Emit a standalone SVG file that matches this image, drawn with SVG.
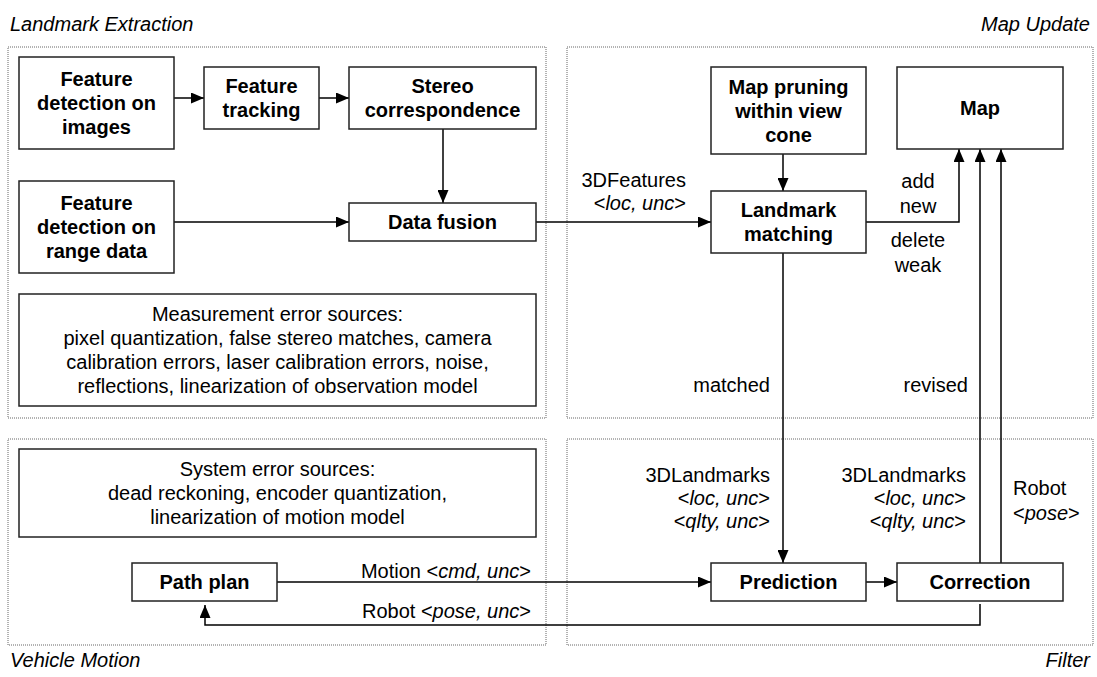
<svg xmlns="http://www.w3.org/2000/svg" width="1097" height="677" viewBox="0 0 1097 677">
<defs>
<marker id="ah" viewBox="0 0 13 11" refX="13" refY="5.5" markerWidth="13" markerHeight="11" markerUnits="userSpaceOnUse" orient="auto">
<path d="M0,0 L13,5.5 L0,11 z" fill="#000"/>
</marker>
<style>
.frame{fill:none;stroke:#666;stroke-width:1;stroke-dasharray:1 1}
.box{fill:#fff;stroke:#222;stroke-width:1.5}
.b{font-family:"Liberation Sans",Arial,sans-serif;font-size:20px;font-weight:bold;fill:#000;text-anchor:middle}
.r{font-family:"Liberation Sans",Arial,sans-serif;font-size:20px;fill:#000}
.m{text-anchor:middle}
.e{text-anchor:end}
.i{font-style:italic}
.lab{font-family:"Liberation Sans",Arial,sans-serif;font-size:20px;font-style:italic;fill:#000}
.c{fill:none;stroke:#000;stroke-width:1.5}
</style>
</defs>
<rect width="1097" height="677" fill="#fff"/>

<g id="frames">
<rect class="frame" x="8" y="47" width="538" height="371"/>
<rect class="frame" x="567" y="47" width="526" height="371"/>
<rect class="frame" x="8" y="439" width="538" height="206"/>
<rect class="frame" x="567" y="439" width="526" height="206"/>
<text class="lab" x="10" y="31">Landmark Extraction</text>
<text class="lab" x="1090" y="31" text-anchor="end">Map Update</text>
<text class="lab" x="10" y="667">Vehicle Motion</text>
<text class="lab" x="1090" y="667" text-anchor="end">Filter</text>
</g>

<g id="connectors">
<path class="c" d="M174,98 H204" marker-end="url(#ah)"/>
<path class="c" d="M319,98 H349" marker-end="url(#ah)"/>
<path class="c" d="M443,129 V203" marker-end="url(#ah)"/>
<path class="c" d="M174,222 H349" marker-end="url(#ah)"/>
<path class="c" d="M536,222 H711" marker-end="url(#ah)"/>
<path class="c" d="M783,154 V191" marker-end="url(#ah)"/>
<path class="c" d="M866,222 H959 V149" marker-end="url(#ah)"/>
<path class="c" d="M783,253 V563" marker-end="url(#ah)"/>
<path class="c" d="M980,563 V149" marker-end="url(#ah)"/>
<path class="c" d="M1001,563 V149" marker-end="url(#ah)"/>
<path class="c" d="M277,582 H711" marker-end="url(#ah)"/>
<path class="c" d="M866,582 H897" marker-end="url(#ah)"/>
<path class="c" d="M980,604 V625 H205 V605" marker-end="url(#ah)"/>
<text class="r e" x="686" y="187">3DFeatures</text>
<text class="r e" x="686" y="210">&lt;<tspan class="i">loc, unc</tspan>&gt;</text>
<text class="r m" x="918" y="188">add</text>
<text class="r m" x="918" y="213">new</text>
<text class="r m" x="918" y="247">delete</text>
<text class="r m" x="918" y="272">weak</text>
<text class="r e" x="770" y="392">matched</text>
<text class="r e" x="968" y="392">revised</text>
<text class="r e" x="770" y="482">3DLandmarks</text>
<text class="r e" x="770" y="505">&lt;<tspan class="i">loc, unc</tspan>&gt;</text>
<text class="r e" x="770" y="528">&lt;<tspan class="i">qlty, unc</tspan>&gt;</text>
<text class="r e" x="966" y="482">3DLandmarks</text>
<text class="r e" x="966" y="505">&lt;<tspan class="i">loc, unc</tspan>&gt;</text>
<text class="r e" x="966" y="528">&lt;<tspan class="i">qlty, unc</tspan>&gt;</text>
<text class="r" x="1013" y="495">Robot</text>
<text class="r" x="1013" y="520">&lt;<tspan class="i">pose</tspan>&gt;</text>
<text class="r e" x="531" y="578">Motion &lt;<tspan class="i">cmd, unc</tspan>&gt;</text>
<text class="r e" x="531" y="618">Robot &lt;<tspan class="i">pose, unc</tspan>&gt;</text>
</g>

<g id="fd-images">
<rect class="box" x="19" y="57" width="155" height="92"/>
<text class="b" x="96.5" y="86">Feature</text>
<text class="b" x="96.5" y="110">detection on</text>
<text class="b" x="96.5" y="134">images</text>
</g>
<g id="feature-tracking">
<rect class="box" x="204" y="67" width="115" height="62"/>
<text class="b" x="261.5" y="93">Feature</text>
<text class="b" x="261.5" y="117">tracking</text>
</g>
<g id="stereo">
<rect class="box" x="349" y="67" width="187" height="62"/>
<text class="b" x="442.5" y="93">Stereo</text>
<text class="b" x="442.5" y="117">correspondence</text>
</g>
<g id="fd-range">
<rect class="box" x="19" y="181" width="155" height="92"/>
<text class="b" x="96.5" y="210">Feature</text>
<text class="b" x="96.5" y="234">detection on</text>
<text class="b" x="96.5" y="258">range data</text>
</g>
<g id="data-fusion">
<rect class="box" x="349" y="203" width="187" height="38"/>
<text class="b" x="442.5" y="229">Data fusion</text>
</g>
<g id="measurement-errors">
<rect class="box" x="19" y="294" width="517" height="112"/>
<text class="r m" x="277.5" y="321">Measurement error sources:</text>
<text class="r m" x="277.5" y="345">pixel quantization, false stereo matches, camera</text>
<text class="r m" x="277.5" y="369">calibration errors, laser calibration errors, noise,</text>
<text class="r m" x="277.5" y="393">reflections, linearization of observation model</text>
</g>
<g id="map-pruning">
<rect class="box" x="711" y="67" width="155" height="87"/>
<text class="b" x="788.5" y="94">Map pruning</text>
<text class="b" x="788.5" y="118">within view</text>
<text class="b" x="788.5" y="142">cone</text>
</g>
<g id="map">
<rect class="box" x="897" y="67" width="166" height="82"/>
<text class="b" x="980" y="115">Map</text>
</g>
<g id="landmark-matching">
<rect class="box" x="711" y="191" width="155" height="62"/>
<text class="b" x="788.5" y="217">Landmark</text>
<text class="b" x="788.5" y="241">matching</text>
</g>
<g id="system-errors">
<rect class="box" x="19" y="449" width="517" height="88"/>
<text class="r m" x="277.5" y="476">System error sources:</text>
<text class="r m" x="277.5" y="500">dead reckoning, encoder quantization,</text>
<text class="r m" x="277.5" y="524">linearization of motion model</text>
</g>
<g id="path-plan">
<rect class="box" x="132" y="563" width="145" height="38"/>
<text class="b" x="204.5" y="589">Path plan</text>
</g>
<g id="prediction">
<rect class="box" x="711" y="563" width="155" height="38"/>
<text class="b" x="788.5" y="589">Prediction</text>
</g>
<g id="correction">
<rect class="box" x="897" y="563" width="166" height="38"/>
<text class="b" x="980" y="589">Correction</text>
</g>
</svg>
